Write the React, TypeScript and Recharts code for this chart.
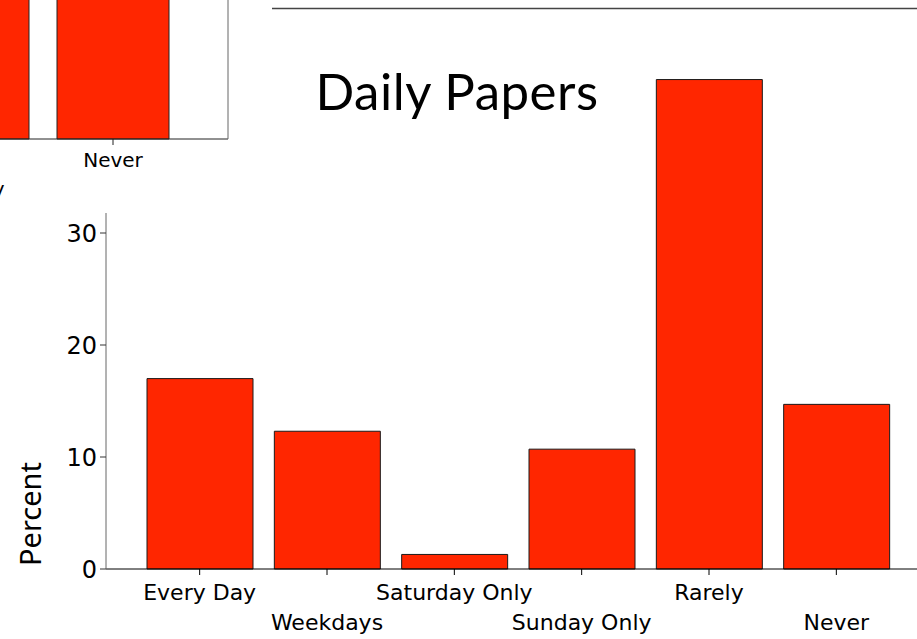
import { BarChart, Bar, XAxis, YAxis } from 'recharts';

// Daily Papers - percent of respondents by reading frequency
const categories = ['Every Day', 'Weekdays', 'Saturday Only', 'Sunday Only', 'Rarely', 'Never'];
const percents = [17.0, 12.3, 1.3, 10.7, 43.7, 14.7];
const yTicks = [0, 10, 20, 30];

// cropped neighbour chart in the top-left corner (bars run off the top)
const insetCategories = ['Rarely', 'Never'];
const insetPercents = [38, 30];

const RED = '#ff2600';
const FONT = '"DejaVu Sans", Verdana, sans-serif';

const data = categories.map((category, i) => ({ category, percent: percents[i] }));
const insetData = insetCategories.map((category, i) => ({ category, percent: insetPercents[i] }));

// labels alternate between two rows so they don't collide
function StaggerTick(props: any) {
    const { x, y, payload, index, shift = 0, size = 22, rows = [23, 53] } = props;
    const row = (index + shift) % 2;
    return (
        <text
            x={x}
            y={y}
            dy={rows[row]}
            textAnchor="middle"
            fontFamily={FONT}
            fontSize={size}
            fill="#000"
        >
            {payload.value}
        </text>
    );
}

export default function App() {
    return (
        <div
            style={{
                position: 'relative',
                width: 917,
                height: 639,
                overflow: 'hidden',
                background: '#fff',
            }}
        >
            <style>{'body{margin:0}'}</style>

            {/* Inset */}
            <div style={{ position: 'absolute', left: -97, top: -300 }}>
                <BarChart
                    width={326}
                    height={509}
                    data={insetData}
                    margin={{ top: 0, right: 0, bottom: 0, left: 0 }}
                    barSize={112}
                >
                    <XAxis
                        dataKey="category"
                        height={70}
                        interval={0}
                        padding={{ left: 0, right: 45 }}
                        tickSize={6}
                        tickMargin={2}
                        axisLine={{ stroke: '#222' }}
                        tickLine={{ stroke: '#222' }}
                        tick={<StaggerTick shift={1} size={20} rows={[20, 49]} />}
                    />
                    <YAxis
                        orientation="right"
                        width={1}
                        domain={[0, 40]}
                        tick={false}
                        tickLine={false}
                        axisLine={{ stroke: '#666' }}
                    />
                    <Bar
                        dataKey="percent"
                        fill={RED}
                        stroke="#222"
                        strokeWidth={1}
                        isAnimationActive={false}
                    />
                </BarChart>
            </div>

            {/* Main chart */}
            <div style={{ position: 'absolute', left: 0, top: 0 }}>
                <BarChart
                    width={940}
                    height={639}
                    data={data}
                    margin={{ top: 65, right: 10, bottom: 0, left: 0 }}
                    barSize={106}
                >
                    <XAxis
                        dataKey="category"
                        height={70}
                        interval={0}
                        padding={{ left: 30, right: 30 }}
                        tickSize={6}
                        tickMargin={2}
                        axisLine={{ stroke: '#000' }}
                        tickLine={{ stroke: '#000' }}
                        tick={<StaggerTick />}
                    />
                    <YAxis
                        width={106}
                        domain={[0, 45]}
                        ticks={yTicks}
                        tickSize={6}
                        tickMargin={3}
                        axisLine={{ stroke: '#666', strokeDasharray: '0 148 400' }}
                        tickLine={{ stroke: '#333' }}
                        tick={{ fontFamily: FONT, fontSize: 24, fill: '#000' }}
                    />
                    <Bar
                        dataKey="percent"
                        fill={RED}
                        stroke="#1a1a1a"
                        strokeWidth={1}
                        isAnimationActive={false}
                    />
                </BarChart>
            </div>

            {/* Title, axis title, slide rule */}
            <svg
                width={917}
                height={639}
                style={{ position: 'absolute', left: 0, top: 0, pointerEvents: 'none' }}
            >
                <line x1={272} y1={8.5} x2={917} y2={8.5} stroke="#444" strokeWidth={1.5} />
                <text
                    x={457}
                    y={110}
                    textAnchor="middle"
                    fontFamily="Lato, 'Noto Sans', sans-serif"
                    fontSize={51}
                    letterSpacing={0.5}
                    fill="#000"
                >
                    Daily Papers
                </text>
                <text
                    x={41}
                    y={514}
                    transform="rotate(-90 41 514)"
                    textAnchor="middle"
                    fontFamily="'Noto Sans', sans-serif"
                    fontSize={29}
                    fill="#000"
                >
                    Percent
                </text>
            </svg>
        </div>
    );
}
